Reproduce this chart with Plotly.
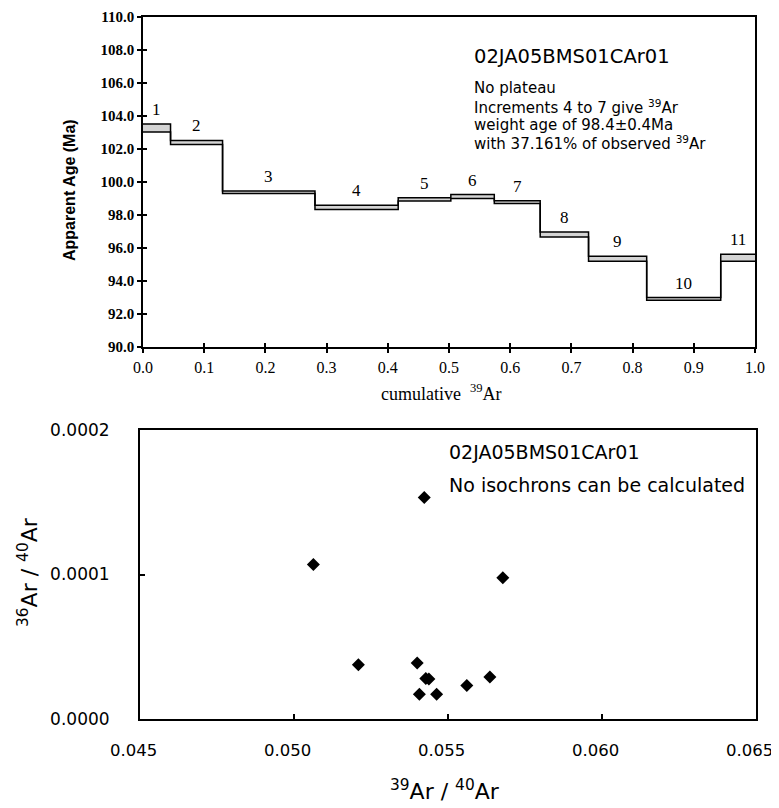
import plotly.graph_objects as go

# ---------------- data: age spectrum ----------------
step_numbers = [1, 2, 3, 4, 5, 6, 7, 8, 9, 10, 11]
cum_39ar_bounds = [0.0, 0.045, 0.130, 0.281, 0.417, 0.503, 0.574, 0.649, 0.728, 0.823, 0.944, 1.0]
apparent_age = [103.27, 102.40, 99.38, 98.46, 98.95, 99.12, 98.78, 96.82, 95.35, 92.92, 95.41]
age_error = [0.24, 0.12, 0.08, 0.13, 0.10, 0.12, 0.08, 0.15, 0.15, 0.08, 0.21]

age_ticks = [90, 92, 94, 96, 98, 100, 102, 104, 106, 108, 110]
cum_ticks = [0.0, 0.1, 0.2, 0.3, 0.4, 0.5, 0.6, 0.7, 0.8, 0.9, 1.0]

# ---------------- data: isochron ----------------
ar39_ar40 = [0.05063, 0.05423, 0.05678, 0.05209, 0.05400, 0.05428, 0.05438,
             0.05407, 0.05463, 0.05561, 0.05636]
ar36_ar40 = [1.069e-4, 1.533e-4, 0.977e-4, 3.75e-5, 3.87e-5, 2.80e-5, 2.76e-5,
             1.71e-5, 1.71e-5, 2.31e-5, 2.90e-5]

ratio_x_ticks = [0.045, 0.050, 0.055, 0.060, 0.065]
ratio_y_ticks = [0.0, 0.0001, 0.0002]

sample_name = "02JA05BMS01CAr01"
spectrum_notes = ["No plateau",
                  "Increments 4 to 7 give <sup>39</sup>Ar",
                  "weight age of 98.4\u00b10.4Ma",
                  "with 37.161% of observed <sup>39</sup>Ar"]
isochron_note = "No isochrons can be calculated"

# page body has an 8px margin: figure is placed at (8, 8) in the window
OFF = 8
W, H = 779 - OFF, 808 - OFF
SERIF = "Liberation Serif"
SANS = "DejaVu Sans"


def px(xp):
    return (xp - OFF) / W


def py(yp):
    return 1 - (yp - OFF) / H


upper = [a + e for a, e in zip(apparent_age, age_error)]
lower = [a - e for a, e in zip(apparent_age, age_error)]

fig = go.Figure()

fig.add_trace(go.Scatter(
    x=cum_39ar_bounds, y=lower + [lower[-1]], mode="lines",
    line=dict(color="black", width=1.5, shape="hv"),
    xaxis="x", yaxis="y", showlegend=False, hoverinfo="skip"))
fig.add_trace(go.Scatter(
    x=cum_39ar_bounds, y=upper + [upper[-1]], mode="lines",
    line=dict(color="black", width=1.5, shape="hv"),
    fill="tonexty", fillcolor="#d4d4d4",
    xaxis="x", yaxis="y", showlegend=False, hoverinfo="skip"))

fig.add_trace(go.Scatter(
    x=ar39_ar40, y=ar36_ar40, mode="markers",
    marker=dict(symbol="diamond", size=10, color="black"),
    xaxis="x2", yaxis="y2", showlegend=False))

annotations = []
for n, x0, x1, u in zip(step_numbers, cum_39ar_bounds[:-1], cum_39ar_bounds[1:], upper):
    annotations.append(dict(
        x=(x0 + x1) / 2, y=u, xref="x", yref="y", text=str(n),
        showarrow=False, yanchor="bottom", yshift=3,
        font=dict(family=SERIF, size=17, color="black")))

# bottom x tick labels (slightly left of their ticks, as in the original)
for v in ratio_x_ticks:
    annotations.append(dict(
        x=v, y=py(750), xref="x2", yref="paper", text=f"{v:.3f}",
        showarrow=False, xanchor="center", yanchor="middle", xshift=-7,
        font=dict(family=SANS, size=16.5, color="black")))

annotations.append(dict(x=px(471.7), y=py(56.7), xref="paper", yref="paper",
                        text=sample_name, showarrow=False, xanchor="left", yanchor="middle",
                        font=dict(family=SANS, size=19.5, color="black")))
for txt, yc in zip(spectrum_notes, [88, 106.5, 125, 143]):
    annotations.append(dict(x=px(471.7), y=py(yc), xref="paper", yref="paper",
                            text=txt, showarrow=False, xanchor="left", yanchor="middle",
                            font=dict(family=SANS, size=15, color="black")))

annotations.append(dict(x=px(69), y=py(190), xref="paper", yref="paper",
                        text="<b>Apparent Age (Ma)</b>", textangle=-90, showarrow=False,
                        xanchor="center", yanchor="middle",
                        font=dict(family="Liberation Sans", size=16, color="black")))
annotations.append(dict(x=px(441), y=py(392), xref="paper", yref="paper",
                        text="cumulative\u00a0 <sup>39</sup>Ar", showarrow=False,
                        xanchor="center", yanchor="middle",
                        font=dict(family=SERIF, size=18, color="black")))

annotations.append(dict(x=px(446.7), y=py(451.7), xref="paper", yref="paper",
                        text=sample_name, showarrow=False, xanchor="left", yanchor="middle",
                        font=dict(family=SANS, size=19, color="black")))
annotations.append(dict(x=px(446.7), y=py(485), xref="paper", yref="paper",
                        text=isochron_note, showarrow=False, xanchor="left", yanchor="middle",
                        font=dict(family=SANS, size=19, color="black")))

annotations.append(dict(x=px(28), y=py(572), xref="paper", yref="paper",
                        text="<sup>36</sup>Ar / <sup>40</sup>Ar", textangle=-90, showarrow=False,
                        xanchor="center", yanchor="middle",
                        font=dict(family=SANS, size=22, color="black")))
annotations.append(dict(x=px(445), y=py(790), xref="paper", yref="paper",
                        text="<sup>39</sup>Ar / <sup>40</sup>Ar", showarrow=False,
                        xanchor="center", yanchor="middle",
                        font=dict(family=SANS, size=22, color="black")))

top_xdom = [px(143), px(755)]
top_ydom = [py(347), py(17)]
bot_xdom = [px(140), px(756)]
bot_ydom = [py(719), py(430)]

fig.update_layout(
    template="none",
    width=W, height=H,
    margin=dict(l=0, r=0, t=0, b=0, pad=0, autoexpand=False),
    paper_bgcolor="white", plot_bgcolor="white",
    showlegend=False,
    annotations=annotations,
    xaxis=dict(domain=top_xdom, anchor="y", range=[0, 1], automargin=False,
               tickvals=cum_ticks, ticktext=[f"{v:.1f}" for v in cum_ticks],
               ticks="outside", ticklen=4, tickwidth=1.5, tickcolor="black",
               showline=True, linecolor="black", linewidth=1.5, mirror=True,
               showgrid=False, zeroline=False, ticklabelstandoff=1,
               ticklabeloverflow="allow",
               tickfont=dict(family=SERIF, size=16, color="black")),
    yaxis=dict(domain=top_ydom, anchor="x", range=[90, 110], automargin=False,
               tickvals=age_ticks, ticktext=[f"<b>{v:.1f}</b>" for v in age_ticks],
               ticks="outside", ticklen=4, tickwidth=1.5, tickcolor="black",
               showline=True, linecolor="black", linewidth=1.5, mirror=True,
               showgrid=False, zeroline=False, ticklabelstandoff=0,
               ticklabeloverflow="allow",
               tickfont=dict(family=SERIF, size=15, color="black")),
    xaxis3=dict(overlaying="x", anchor="y", range=[0, 1], tickvals=cum_ticks, automargin=False,
                ticks="inside", ticklen=4, tickwidth=1.5, tickcolor="black",
                showticklabels=False, showline=False, showgrid=False, zeroline=False),
    yaxis3=dict(overlaying="y", anchor="x", range=[90, 110], tickvals=age_ticks, automargin=False,
                ticks="inside", ticklen=4, tickwidth=1.5, tickcolor="black",
                showticklabels=False, showline=False, showgrid=False, zeroline=False),
    xaxis2=dict(domain=bot_xdom, anchor="y2", range=[0.045, 0.065], automargin=False,
                tickvals=ratio_x_ticks, showticklabels=False,
                ticks="inside", ticklen=5, tickwidth=1.5, tickcolor="black",
                showline=True, linecolor="black", linewidth=2, mirror=True,
                showgrid=False, zeroline=False),
    yaxis2=dict(domain=bot_ydom, anchor="x2", range=[0, 0.0002], automargin=False,
                tickvals=ratio_y_ticks, tickformat=".4f",
                ticks="inside", ticklen=5, tickwidth=1.5, tickcolor="black",
                showline=True, linecolor="black", linewidth=2, mirror=True,
                showgrid=False, zeroline=False, ticklabelstandoff=25,
                ticklabeloverflow="allow",
                tickfont=dict(family=SANS, size=17, color="black")),
)

# register overlay axes with an invisible trace so they render
fig.add_trace(go.Scatter(x=[None], y=[None], xaxis="x3", yaxis="y3",
                         showlegend=False, hoverinfo="skip"))

fig.write_html("out.html")
